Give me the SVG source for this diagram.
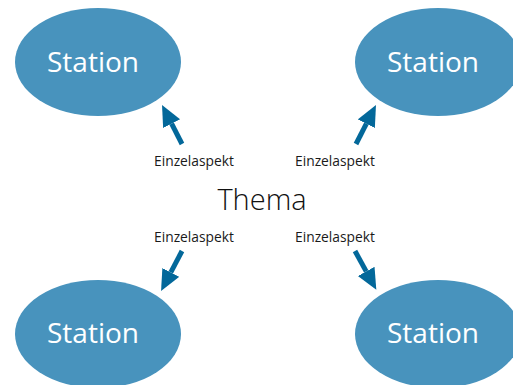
<svg xmlns="http://www.w3.org/2000/svg" width="513" height="385" viewBox="0 0 513 385">
<style>
.st{fill:#4893bd}
.stt{fill:#ffffff;font-family:"Open Sans","Noto Sans",sans-serif;font-size:28px;text-anchor:middle}
.lbl{fill:#1a1a1a;font-family:"Open Sans","Noto Sans",sans-serif;font-size:13.8px;text-anchor:middle}
.th{fill:#111111;font-family:"Open Sans","Noto Sans",sans-serif;font-size:29px;font-weight:300;text-anchor:middle}
.ar{stroke:#03689a;stroke-width:5;fill:none;marker-end:url(#ah)}
</style>
<defs>
<marker id="ah" markerUnits="userSpaceOnUse" markerWidth="22" markerHeight="20" refX="0" refY="9.5" orient="auto">
<path d="M0,0 L21,9.5 L0,19 Z" fill="#03689a"/>
</marker>
</defs>
<g id="station-tl"><ellipse class="st" cx="98" cy="62" rx="83" ry="54"/><text class="stt" x="93" y="72">Station</text></g>
<g id="station-tr"><ellipse class="st" cx="438" cy="62" rx="83" ry="54"/><text class="stt" x="433" y="72">Station</text></g>
<g id="station-bl"><ellipse class="st" cx="98" cy="334" rx="83" ry="54"/><text class="stt" x="93" y="343">Station</text></g>
<g id="station-br"><ellipse class="st" cx="438" cy="334" rx="83" ry="54"/><text class="stt" x="433" y="343">Station</text></g>
<g id="thema"><text class="th" x="262" y="210">Thema</text></g>
<g id="connectors">
<line class="ar" x1="182" y1="144" x2="171.6" y2="123.7"/>
<line class="ar" x1="356" y1="144" x2="366.4" y2="123.7"/>
<line class="ar" x1="182" y1="251" x2="170.8" y2="272.4"/>
<line class="ar" x1="355" y1="251" x2="366.2" y2="271.4"/>
<text class="lbl" x="194" y="166">Einzelaspekt</text>
<text class="lbl" x="335" y="166">Einzelaspekt</text>
<text class="lbl" x="194" y="242">Einzelaspekt</text>
<text class="lbl" x="335" y="242">Einzelaspekt</text>
</g>
</svg>
